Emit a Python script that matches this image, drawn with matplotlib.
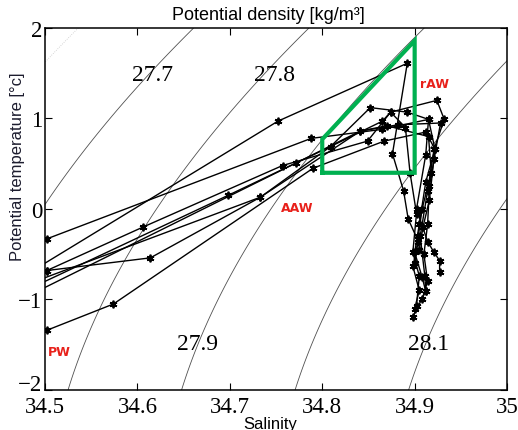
import numpy as np
import matplotlib.pyplot as plt
import matplotlib.transforms as mtransforms

# T-S profiles (salinity, potential temperature); first point of each lies off the left edge
p1_s = [34.30, 34.502, 34.788, 34.865, 34.915, 34.922, 34.912, 34.905, 34.900, 34.908, 34.912, 34.898]
p1_t = [-1.10, -0.33, 0.78, 0.88, 0.99, 0.66, 0.30, -0.17, -0.48, -0.75, -0.91, -1.19]
p2_s = [34.45, 34.752, 34.892, 34.876, 34.888, 34.893, 34.904, 34.898, 34.905, 34.900]
p2_t = [-0.91, 0.97, 1.61, 0.61, 0.20, -0.11, -0.36, -0.63, -0.90, -1.10]
p3_s = [34.40, 34.502, 34.606, 34.757, 34.849, 34.874, 34.924, 34.932, 34.921, 34.914, 34.906, 34.911, 34.912]
p3_t = [-1.00, -0.68, -0.20, 0.48, 0.75, 1.07, 1.20, 0.99, 0.66, 0.20, -0.30, -0.74, -0.91]
p4_s = [34.40, 34.502, 34.614, 34.733, 34.809, 34.852, 34.892, 34.915, 34.912, 34.902, 34.914, 34.921, 34.927, 34.927]
p4_t = [-0.75, -0.68, -0.54, 0.13, 0.69, 1.12, 1.07, 0.99, 0.60, 0.00, -0.36, -0.48, -0.57, -0.70]
p5_s = [34.45, 34.733, 34.841, 34.882, 34.928, 34.921, 34.916, 34.914, 34.910, 34.914, 34.908]
p5_t = [-0.95, 0.13, 0.86, 0.93, 0.95, 0.55, 0.25, -0.17, -0.50, -0.80, -1.00]
p6_s = [34.45, 34.698, 34.809, 34.865, 34.874, 34.890, 34.895, 34.902, 34.898, 34.905, 34.902]
p6_t = [-1.04, 0.15, 0.69, 0.97, 1.07, 0.90, 0.40, -0.05, -0.48, -0.74, -1.07]
p7_s = [34.45, 34.772, 34.841, 34.870, 34.915, 34.918, 34.908, 34.904, 34.900]
p7_t = [-1.12, 0.51, 0.86, 0.92, 0.80, 0.40, 0.00, -0.30, -0.60]
p8_s = [34.40, 34.502, 34.574, 34.790, 34.867, 34.912, 34.922, 34.916, 34.909, 34.905]
p8_t = [-1.80, -1.34, -1.05, 0.45, 0.75, 0.85, 0.66, 0.10, -0.20, -0.45]

profiles = [(p1_s, p1_t), (p2_s, p2_t), (p3_s, p3_t), (p4_s, p4_t),
            (p5_s, p5_t), (p6_s, p6_t), (p7_s, p7_t), (p8_s, p8_t)]

# rAW box corners
box_s = [34.80, 34.90, 34.90, 34.80, 34.80]
box_t = [0.40, 0.40, 1.86, 0.77, 0.40]

sigma_levels = [27.7, 27.8, 27.9, 28.0, 28.1]
sigma_labels = ["27.7", "27.8", "27.9", "28.1"]
label_s = [34.616, 34.748, 34.665, 34.915]
label_t = [1.49, 1.49, -1.49, -1.49]

water_names = ["rAW", "AAW", "PW"]
water_s = [34.906, 34.755, 34.503]
water_t = [1.39, 0.02, -1.57]


def sigma0(S, T):
    # UNESCO 1983 density at surface pressure
    rw = (999.842594 + 6.793952e-2 * T - 9.095290e-3 * T**2 + 1.001685e-4 * T**3
          - 1.120083e-6 * T**4 + 6.536332e-9 * T**5)
    a = 0.824493 - 4.0899e-3 * T + 7.6438e-5 * T**2 - 8.2467e-7 * T**3 + 5.3875e-9 * T**4
    b = -5.72466e-3 + 1.0227e-4 * T - 1.6546e-6 * T**2
    return rw + a * S + b * S**1.5 + 4.8314e-4 * S**2 - 1000


fig = plt.figure(figsize=(5.18, 4.31), dpi=100)
ax = fig.add_axes([0.0869, 0.0928, 0.892, 0.84])

sg, tg = np.meshgrid(np.linspace(34.5, 35, 300), np.linspace(-2, 2, 300))
dens = sigma0(sg, tg)
ax.contour(sg, tg, dens, levels=sigma_levels, colors="#505050", linewidths=0.6)
ax.contour(sg, tg, dens, levels=[27.6], colors="#c8c8c8", linewidths=0.6, linestyles=":")

for s, t in profiles:
    ax.plot(s, t, color="black", lw=1.0, marker=(6, 2, 0), ms=5.5, mew=1.3)

ax.plot(box_s, box_t, color="#00b050", lw=3.0, solid_joinstyle="miter")

for txt, s, t in zip(sigma_labels, label_s, label_t):
    ax.text(s, t, txt, fontsize=17, family="Liberation Serif", ha="center", va="center")

for txt, s, t in zip(water_names, water_s, water_t):
    ax.text(s, t, txt, fontsize=9, color="#e8201a", fontweight="bold", ha="left", va="center")

ax.set_xlim(34.5, 35)
ax.set_ylim(-2, 2)
ax.set_xticks([34.5, 34.6, 34.7, 34.8, 34.9, 35])
ax.set_xticklabels(["34.5", "34.6", "34.7", "34.8", "34.9", "35"])
ax.set_yticks([-2, -1, 0, 1, 2])
ax.set_yticklabels(["\u22122", "\u22121", "0", "1", "2"])
ax.tick_params(axis="both", direction="in", top=True, right=True, length=5, width=0.8,
               labelsize=16.5)
ax.tick_params(axis="x", pad=4.5)
ax.tick_params(axis="y", pad=2)
for lab in ax.get_xticklabels() + ax.get_yticklabels():
    lab.set_family("Liberation Serif")
# lift the bottom y label so it clears the first x label
ylab0 = ax.get_yticklabels()[0]
ylab0.set_transform(ylab0.get_transform() + mtransforms.ScaledTranslation(0, 6 / 72, fig.dpi_scale_trans))
for sp in ax.spines.values():
    sp.set_linewidth(1.1)

fig.text(0.519, 0.965, "Potential density [kg/m\u00b3]", fontsize=13, family="Liberation Sans",
         ha="center", va="center")
fig.text(0.033, 0.613, "Potential temperature [\u00b0c]", fontsize=12, family="Liberation Sans",
         ha="center", va="center", rotation=90, color="#1c1c2e")
fig.text(0.521, 0.014, "Salinity", fontsize=12, family="Liberation Sans",
         ha="center", va="center")

fig.savefig("out.png", dpi=100)
